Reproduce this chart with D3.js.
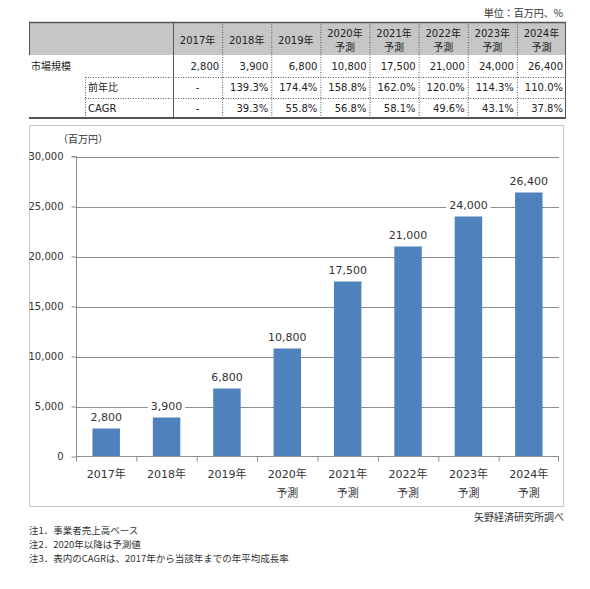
<!DOCTYPE html>
<html>
<head>
<meta charset="utf-8">
<script src="https://cdn.jsdelivr.net/npm/d3@7"></script>
<style>
html,body{margin:0;padding:0;background:#fff;}
svg{display:block;font-family:"DejaVu Sans","Noto Sans CJK JP",sans-serif;}
</style>
</head>
<body>
<svg id="c" width="590" height="589"></svg>
<script>
// ---- data ----
const years = ["2017年","2018年","2019年","2020年","2021年","2022年","2023年","2024年"];
const forecast = [false,false,false,true,true,true,true,true];
const marketSize = [2800,3900,6800,10800,17500,21000,24000,26400];
const yoy = ["-","139.3%","174.4%","158.8%","162.0%","120.0%","114.3%","110.0%"];
const cagr = ["-","39.3%","55.8%","56.8%","58.1%","49.6%","43.1%","37.8%"];
const yTicks = [0,5000,10000,15000,20000,25000,30000];
const notes = ["注1．事業者売上高ベース","注2．2020年以降は予測値","注3．表内のCAGRは、2017年から当該年までの年平均成長率"];

const svg = d3.select("#c");
const fmt = d3.format(",");
const cjk = '"Noto Sans CJK JP","DejaVu Sans",sans-serif';

// ---- table ----
const tL = 29, tR = 566, tC = 173, tTop = 22, rH = [55, 77, 98, 118];
const colX = d3.scaleBand().domain(years).range([tC, tR]);
svg.append("text").attr("x", 563).attr("y", 17).attr("text-anchor","end")
  .style("font-family", cjk).style("font-size","10px").attr("fill","#333").text("単位：百万円、%");
svg.append("rect").attr("x", tL).attr("y", tTop).attr("width", tR-tL).attr("height", rH[0]-tTop).attr("fill","#c6c6c6");
const g = svg.append("g");
// header labels
years.forEach((y,i)=>{
  const cx = colX(y) + colX.bandwidth()/2;
  if (forecast[i]) {
    g.append("text").attr("x",cx).attr("y",37).attr("text-anchor","middle").attr("font-size","10px").attr("fill","#222").text(y);
    g.append("text").attr("x",cx).attr("y",51).attr("text-anchor","middle").style("font-family",cjk).attr("font-size","10px").attr("fill","#222").text("予測");
  } else {
    g.append("text").attr("x",cx).attr("y",44).attr("text-anchor","middle").attr("font-size","10px").attr("fill","#222").text(y);
  }
  const right = colX(y) + colX.bandwidth() - 3;
  g.append("text").attr("x",right).attr("y",70).attr("text-anchor","end").attr("font-size","10px").attr("fill","#222").text(fmt(marketSize[i]));
  [[yoy,91],[cagr,112]].forEach(([arr,yy])=>{
    const v = arr[i];
    g.append("text").attr("x", v==="-"? cx : right).attr("y",yy).attr("text-anchor", v==="-"?"middle":"end")
      .attr("font-size","10px").attr("fill","#222").text(v);
  });
});
g.append("text").attr("x",31).attr("y",70).style("font-family",cjk).attr("font-size","10px").attr("fill","#222").text("市場規模");
g.append("text").attr("x",88).attr("y",91).style("font-family",cjk).attr("font-size","10px").attr("fill","#222").text("前年比");
g.append("text").attr("x",88).attr("y",112).attr("font-size","10px").attr("fill","#222").text("CAGR");
// table lines
const dot = {"stroke":"#555","stroke-width":1,"stroke-dasharray":"1,1.5"};
function ln(x1,y1,x2,y2,st){const l=g.append("line").attr("x1",x1).attr("y1",y1).attr("x2",x2).attr("y2",y2);for(const k in st)l.attr(k,st[k]);return l;}
years.slice(1).forEach(y=>ln(colX(y)+0.5,tTop,colX(y)+0.5,rH[3],dot));
ln(85.5,rH[1],85.5,rH[3],dot);
ln(85.5,rH[1]+0.5,tR,rH[1]+0.5,dot);
ln(85.5,rH[2]+0.5,tR,rH[2]+0.5,dot);
const solid = {"stroke":"#555","stroke-width":1};
ln(tC+0.5,tTop,tC+0.5,rH[3],solid);
ln(tL,tTop+0.5,tR,tTop+0.5,{"stroke":"#555","stroke-width":1.5});
ln(tL+0.5,tTop,tL+0.5,rH[0],solid);
ln(tR-0.5,tTop,tR-0.5,rH[3],solid);
ln(tL,rH[3],tR,rH[3],{"stroke":"#555","stroke-width":2});

// ---- chart ----
svg.append("rect").attr("x",29.5).attr("y",125.5).attr("width",534).attr("height",381).attr("fill","none").attr("stroke","#c8c8c8").attr("stroke-width",1);
const pL = 76, pR = 559, pT = 156.5, pB = 456.5;
const x = d3.scaleBand().domain(years).range([pL,pR]).paddingInner(0.545).paddingOuter(0.2725);
const xb = d3.scaleBand().domain(years).range([pL,pR]);
const y = d3.scaleLinear().domain([0,30000]).range([pB,pT]);

// gridlines
svg.append("g").selectAll("line").data(yTicks.slice(1)).join("line")
  .attr("x1",pL).attr("x2",pR).attr("y1",d=>Math.round(y(d))+0.5).attr("y2",d=>Math.round(y(d))+0.5)
  .attr("stroke","#8c8c8c").attr("stroke-width",1);

// y axis
const ya = svg.append("g").attr("transform",`translate(${pL+0.5},0)`)
  .call(d3.axisLeft(y).tickValues(yTicks).tickFormat(fmt).tickSize(5).tickPadding(8));
ya.select(".domain").attr("stroke","#8c8c8c").attr("d",`M-5,${pT}H0V${pB}`);
ya.selectAll(".tick line").attr("stroke","#8c8c8c");
ya.selectAll(".tick text").attr("font-size","10px").attr("fill","#333").style("font-family",'"DejaVu Sans",sans-serif');

svg.append("text").attr("x",58).attr("y",143).style("font-family",cjk).attr("font-size","10px").attr("fill","#333").text("（百万円）");

// bars
svg.append("g").selectAll("rect").data(marketSize).join("rect")
  .attr("x",(d,i)=>x(years[i])).attr("width",x.bandwidth())
  .attr("y",d=>y(d)).attr("height",d=>pB-y(d)).attr("fill","#4f81bd");

// x axis
const xa = svg.append("g").attr("transform",`translate(0,${pB})`);
xa.append("line").attr("x1",pL).attr("x2",pR).attr("stroke","#8c8c8c");
xa.selectAll("line.t").data(years.concat(["end"])).join("line").attr("class","t")
  .attr("x1",(d,i)=>i<years.length?xb(d)+0.5:pR-0.5).attr("x2",(d,i)=>i<years.length?xb(d)+0.5:pR-0.5)
  .attr("y1",0).attr("y2",5).attr("stroke","#8c8c8c");
years.forEach((yy,i)=>{
  const cx = xb(yy)+xb.bandwidth()/2;
  xa.append("text").attr("x",cx).attr("y",21).attr("text-anchor","middle").attr("font-size","11px").attr("fill","#333").text(yy);
  if (forecast[i]) xa.append("text").attr("x",cx).attr("y",40).attr("text-anchor","middle").style("font-family",cjk).attr("font-size","11px").attr("fill","#333").text("予測");
});

// data labels with white background
const lg = svg.append("g");
marketSize.forEach((v,i)=>{
  const cx = xb(years[i])+xb.bandwidth()/2;
  const ty = y(v) - 8;
  const t = lg.append("text").attr("x",cx).attr("y",ty).attr("text-anchor","middle").attr("font-size","11px").attr("fill","#333").text(fmt(v));
  const bb = t.node().getBBox();
  lg.insert("rect","text").attr("x",bb.x-3).attr("y",bb.y).attr("width",bb.width+6).attr("height",bb.height).attr("fill","#fff");
});

// source and notes
svg.append("text").attr("x",564).attr("y",521).attr("text-anchor","end").style("font-family",cjk).attr("font-size","10px").attr("fill","#333").text("矢野経済研究所調べ");
svg.append("g").selectAll("text").data(notes).join("text")
  .attr("x",29).attr("y",(d,i)=>534+i*14).style("font-family",cjk).attr("font-size","9.5px").attr("fill","#333").text(d=>d);
</script>
</body>
</html>
